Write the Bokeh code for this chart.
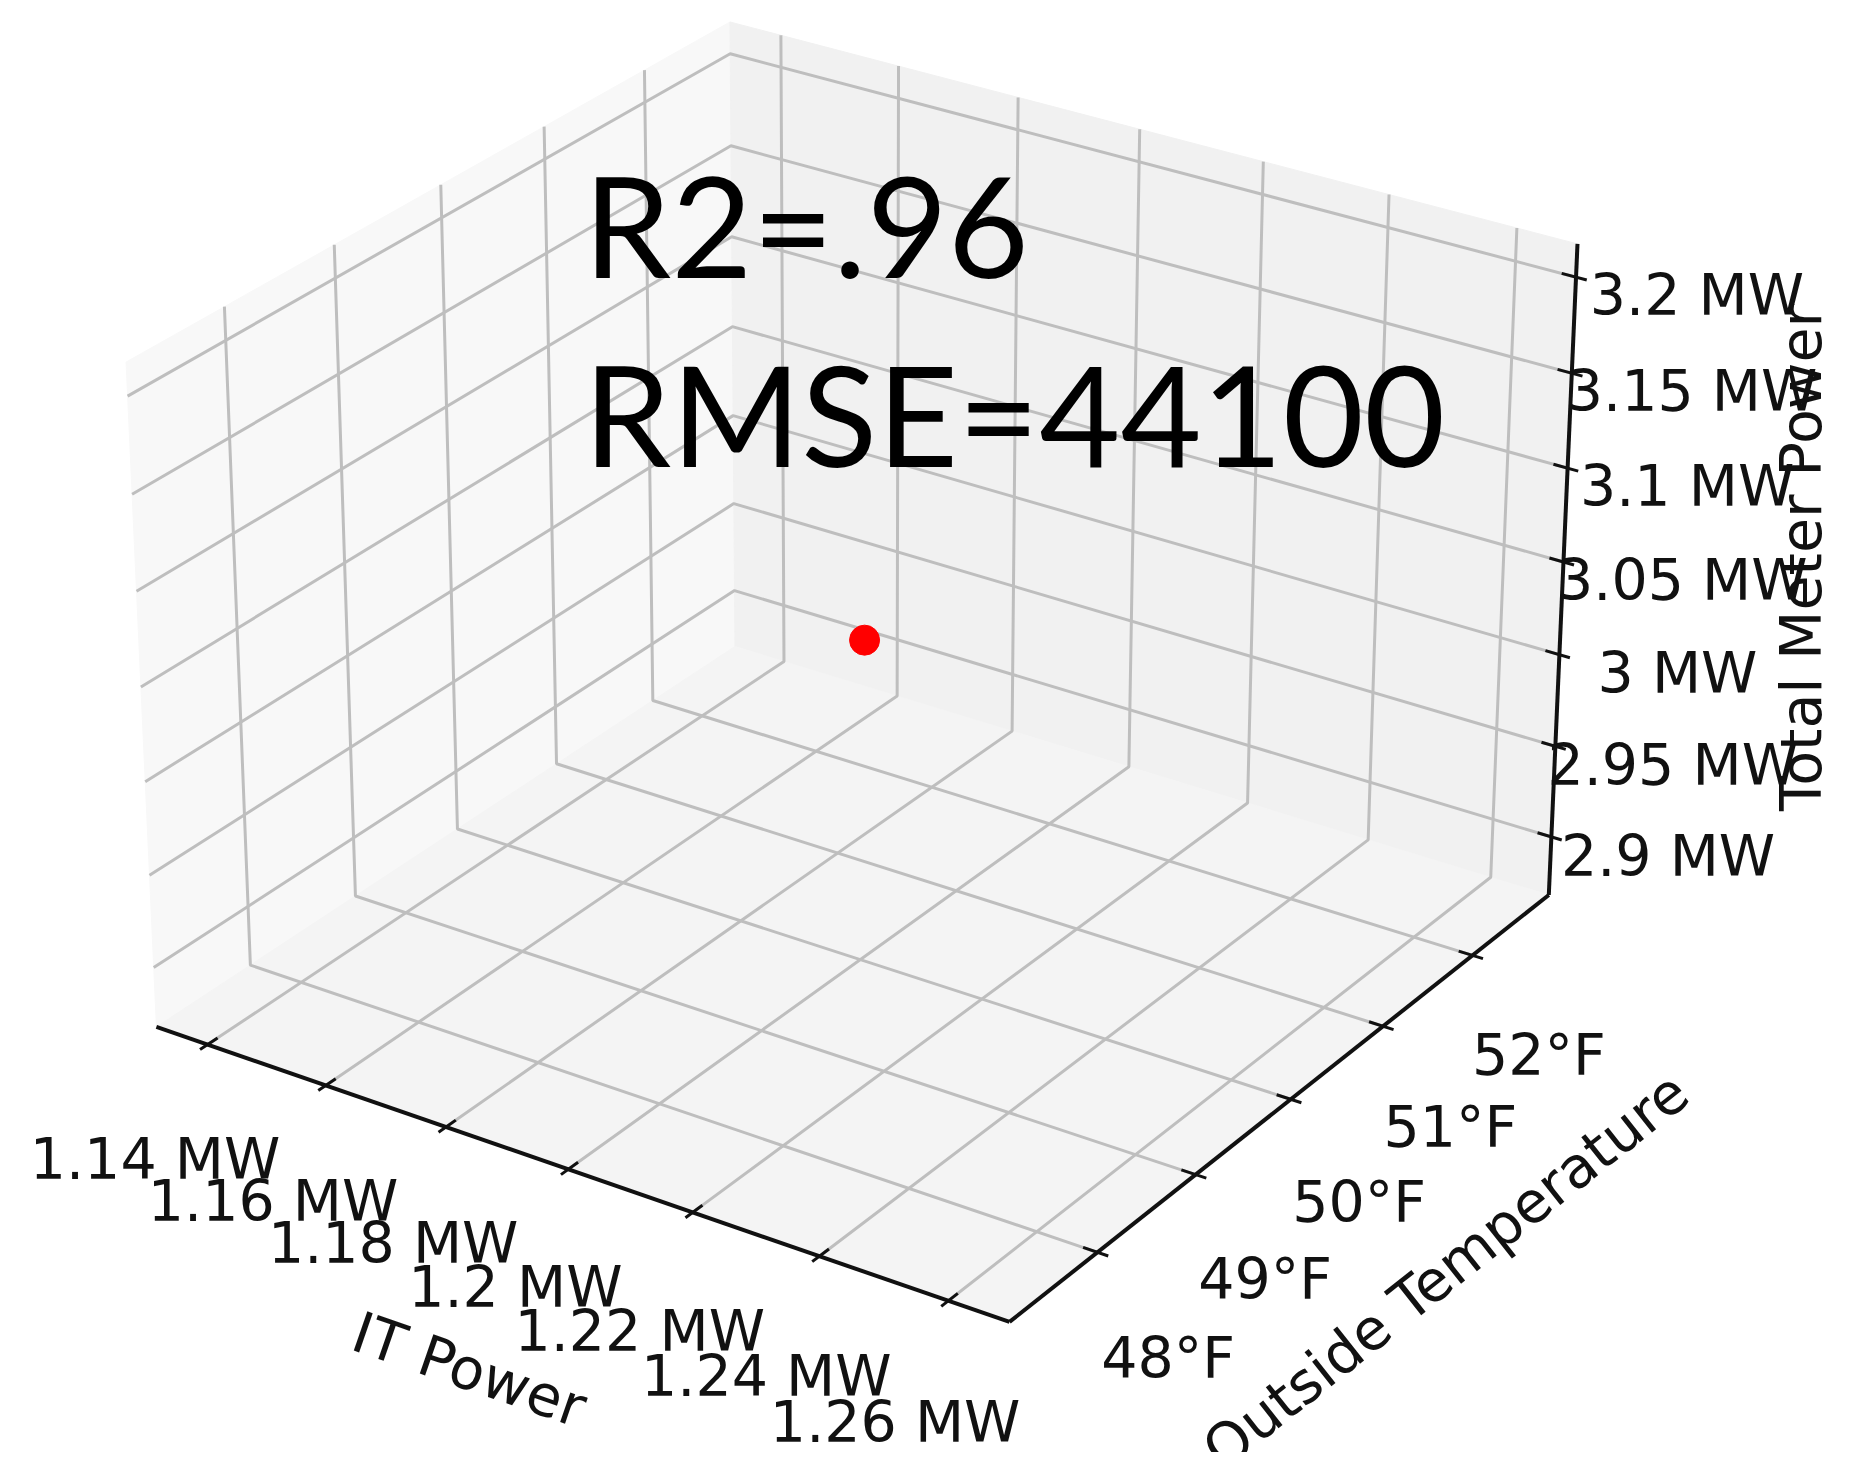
import numpy as np
from bokeh.plotting import figure
from bokeh.models import Range1d
from bokeh.embed import file_html
from bokeh.resources import INLINE
from bokeh.core.properties import value

# ---------------- data ----------------
it_power_ticks = [1.14, 1.16, 1.18, 1.20, 1.22, 1.24, 1.26]          # MW
it_power_labels = ["1.14 MW", "1.16 MW", "1.18 MW", "1.2 MW", "1.22 MW", "1.24 MW", "1.26 MW"]
temp_ticks = [48, 49, 50, 51, 52]                                      # deg F
temp_labels = ["48°F", "49°F", "50°F", "51°F", "52°F"]
meter_ticks = [2.90, 2.95, 3.00, 3.05, 3.10, 3.15, 3.20]               # MW
meter_labels = ["2.9 MW", "2.95 MW", "3 MW", "3.05 MW", "3.1 MW", "3.15 MW", "3.2 MW"]
it_power_lim = [1.1340, 1.2666]
temp_lim = [47.245, 52.761]
meter_lim = [2.8746, 3.2102]
point_it_power = [1.2007]
point_temp = [50.0]
point_meter = [3.0417]
stats_text = ["R2=.96", "RMSE=44100"]
axis_titles = ["IT Power", "Outside Temperature", "Total Meter Power"]

# ---------------- camera (matplotlib-like 3D projection) ----------------
BOX = np.array([4.0, 4.0, 3.0])
BOX *= 1.8294640721620434 / np.linalg.norm(BOX)
DIST = 10.0
AZ, EL = -56.1, 27.7
CX = (8601.3, 869.9)
CY = (-8318.4, 645.4)


def cam(n, az, el):
    P = n * BOX
    R = BOX / 2
    a, e = np.radians(az), np.radians(el)
    w = np.array([np.cos(e) * np.cos(a), np.cos(e) * np.sin(a), np.sin(e)])
    u = np.array([-np.sin(a), np.cos(a), 0.0])
    v = np.cross(w, u)
    D = P - (R + DIST * w)
    dw = -(D @ w)
    return (D @ u) / dw, (D @ v) / dw


def proj(x, y, z):
    x, y, z = np.broadcast_arrays(np.asarray(x, float), np.asarray(y, float), np.asarray(z, float))
    n = np.stack([(x - it_power_lim[0]) / (it_power_lim[1] - it_power_lim[0]),
                  (y - temp_lim[0]) / (temp_lim[1] - temp_lim[0]),
                  (z - meter_lim[0]) / (meter_lim[1] - meter_lim[0])], -1)
    X, Y = cam(n, AZ, EL)
    return CX[0] * X + CX[1], CY[0] * Y + CY[1]


def pad(lim):
    d = (lim[1] - lim[0]) / 48
    return lim[0] - d, lim[1] + d


X0, X1 = pad(it_power_lim)
Y0, Y1 = pad(temp_lim)
Z0, Z1 = pad(meter_lim)
dX = (it_power_lim[1] - it_power_lim[0]) / 12
dY = (temp_lim[1] - temp_lim[0]) / 12
dZ = (meter_lim[1] - meter_lim[0]) / 12

# ---------------- figure ----------------
W, H = 1838, 1452
p = figure(width=W, height=H, x_range=Range1d(8, 8 + W), y_range=Range1d(8 + H, 8),
           output_backend="svg", toolbar_location=None, min_border=0)
p.axis.visible = False
p.grid.visible = False
p.outline_line_color = None
p.background_fill_color = "white"
p.border_fill_color = "white"


def pane(pts, color):
    xs, ys = proj(*np.array(pts).T)
    p.patch(list(xs), list(ys), fill_color=color, line_color=color, line_width=1)


pane([(X0, Y0, Z0), (X0, Y0, Z1), (X0, Y1, Z1), (X0, Y1, Z0)], "#f8f8f8")
pane([(X0, Y1, Z0), (X0, Y1, Z1), (X1, Y1, Z1), (X1, Y1, Z0)], "#f1f1f1")
pane([(X0, Y0, Z0), (X1, Y0, Z0), (X1, Y1, Z0), (X0, Y1, Z0)], "#f4f4f4")

GRID = "#bebebe"
gxs, gys = [], []
for t in it_power_ticks:
    xs, ys = proj([t, t, t], [Y0, Y1, Y1], [Z0, Z0, Z1]); gxs.append(list(xs)); gys.append(list(ys))
for t in temp_ticks:
    xs, ys = proj([X1, X0, X0], [t, t, t], [Z0, Z0, Z1]); gxs.append(list(xs)); gys.append(list(ys))
for t in meter_ticks:
    xs, ys = proj([X0, X0, X1], [Y0, Y1, Y1], [t, t, t]); gxs.append(list(xs)); gys.append(list(ys))
p.multi_line(gxs, gys, line_color=GRID, line_width=3)

axs, ays = [], []
for seg in [([X0, X1], [Y0, Y0], [Z0, Z0]), ([X1, X1], [Y0, Y1], [Z0, Z0]), ([X1, X1], [Y1, Y1], [Z0, Z1])]:
    xs, ys = proj(*seg); axs.append(list(xs)); ays.append(list(ys))
p.multi_line(axs, ays, line_color="#111111", line_width=4)

txs, tys = [], []
for t in it_power_ticks:
    xs, ys = proj([t, t], [Y0 + 0.2 * dY, Y0 - 0.15 * dY], [Z0, Z0]); txs.append(list(xs)); tys.append(list(ys))
for t in temp_ticks:
    xs, ys = proj([X1 - 0.2 * dX, X1 + 0.15 * dX], [t, t], [Z0, Z0]); txs.append(list(xs)); tys.append(list(ys))
for t in meter_ticks:
    xs, ys = proj([X1 - 0.2 * dX, X1 + 0.15 * dX], [Y1, Y1], [t, t]); txs.append(list(xs)); tys.append(list(ys))
p.multi_line(txs, tys, line_color="#111111", line_width=3)

px, py = proj(point_it_power, point_temp, point_meter)
p.scatter(list(px), list(py), size=30, fill_color="#ff0000", line_color="#ff0000")

FONT = value("DejaVu Sans")
FS = "57px"


def labels(xs, ys, texts):
    p.text(list(xs), list(ys), text=texts, text_font=FONT,
           text_font_size=FS, text_color="#111111", text_align="center", text_baseline="middle")


lx, ly = proj(it_power_ticks, Y0 - 1.11 * dY, Z0 - 1.5 * dZ)
labels(lx, ly, it_power_labels)
lx, ly = proj(X1 + 1.0 * dX, temp_ticks, Z0 - 1.55 * dZ)
labels(lx, ly, temp_labels)
lx, ly = proj(X1 + 1.47 * dX, Y1 + 0.37 * dY, meter_ticks)
labels(lx, ly, meter_labels)

ax0, ay0 = proj([X0, X1], [Y0, Y0], [Z0, Z0])
ang_x = np.arctan2(-(ay0[1] - ay0[0]), ax0[1] - ax0[0])
ax1, ay1 = proj([X1, X1], [Y0, Y1], [Z0, Z0])
ang_y = np.arctan2(-(ay1[1] - ay1[0]), ax1[1] - ax1[0])
p.text([477], [1377], text=[axis_titles[0]], angle=float(ang_x), text_font=FONT, text_font_size=FS,
       text_color="#111111", text_align="center", text_baseline="middle")
p.text([1453], [1278], text=[axis_titles[1]], angle=float(ang_y), text_font=FONT, text_font_size=FS,
       text_color="#111111", text_align="center", text_baseline="middle")
p.text([1808], [565], text=[axis_titles[2]], angle=np.pi / 2, text_font=FONT, text_font_size=FS,
       text_color="#111111", text_align="center", text_baseline="middle")

p.text([591, 591], [231, 420], text=stats_text, text_font=value("Lato"), text_font_size="140px",
       text_color="black", text_align="left", text_baseline="middle")

open("out.html", "w").write(file_html(p, INLINE))
